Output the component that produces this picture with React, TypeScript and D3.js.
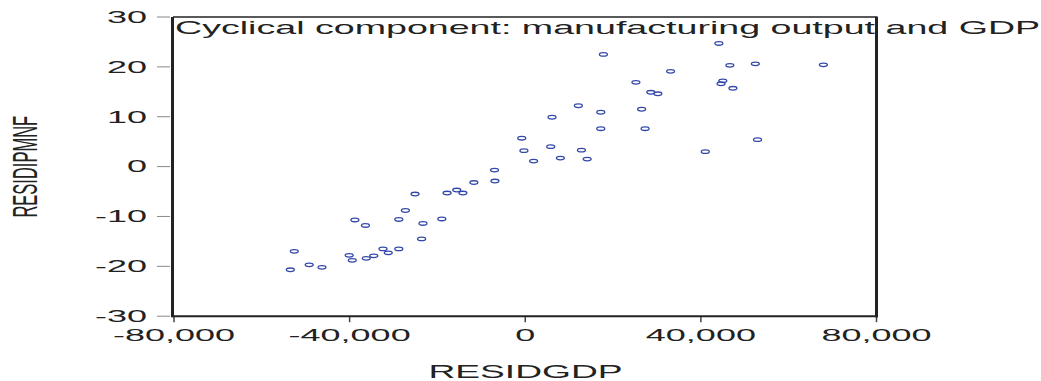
import React from 'react';
import * as d3 from 'd3';

// Data (RESIDGDP, RESIDIPMNF)
const residGDP = [
  -53500, -52600, -49200, -46300, -40100, -39400, -38800, -36400, -36200, -34500,
  -32400, -31200, -28800, -28800, -27300, -25100, -23600, -23300, -19000, -17800,
  -15600, -14200, -11700, -7000, -6900, -800, -300, 1900, 5800, 6100,
  8000, 12100, 12800, 14100, 17200, 17200, 17800, 25200, 26500, 27300,
  28600, 30200, 33100, 41000, 44100, 44600, 45000, 46600, 47300, 52400,
  52900, 67900,
];
const residIPMNF = [
  -20.7, -17.0, -19.7, -20.2, -17.8, -18.8, -10.7, -11.8, -18.4, -17.9,
  -16.5, -17.3, -16.5, -10.6, -8.8, -5.5, -14.5, -11.4, -10.5, -5.3,
  -4.7, -5.3, -3.2, -0.7, -2.9, 5.7, 3.2, 1.1, 4.0, 9.9,
  1.7, 12.2, 3.3, 1.5, 10.9, 7.6, 22.5, 16.9, 11.5, 7.6,
  14.9, 14.6, 19.1, 3.0, 24.7, 16.6, 17.2, 20.3, 15.7, 20.6,
  5.4, 20.4,
];
const xTicks = [-80000, -40000, 0, 40000, 80000];
const yTicks = [30, 20, 10, 0, -10, -20, -30];
const title = 'Cyclical component: manufacturing output and GDP';
const xLabel = 'RESIDGDP';
const yLabel = 'RESIDIPMNF';

const FONT = "'Liberation Sans', Arial, Helvetica, sans-serif";
const SX = 2.25;

export default function App() {
  const x = d3.scaleLinear().domain([-80000, 80000]).range([174, 876.5]);
  const y = d3.scaleLinear().domain([-30, 30]).range([316.2, 17]);
  const fmt = (v: number) => d3.format(',')(v).replace('\u2212', '-');
  const left = x(-80000);
  const right = x(80000);
  const top = y(30);
  const bottom = y(-30);

  return (
    <svg
      width={1041}
      height={381}
      style={{ position: 'absolute', left: 0, top: 0, background: '#fff' }}
      fontFamily={FONT}
    >
      <rect width={1041} height={381} fill="#fff" />
      {/* title */}
      <text
        transform={`translate(175,33.5) scale(2.09,1)`}
        fontSize={18}
        fill="#222"
      >
        {title}
      </text>

      {/* y ticks and labels */}
      {yTicks.map((t) => (
        <g key={'y' + t}>
          <line x1={157} x2={170} y1={y(t)} y2={y(t)} stroke="#888" strokeWidth={1} />
          <text
            transform={`translate(147,${y(t) + 5.8}) scale(${SX},1)`}
            textAnchor="end"
            fontSize={16}
            fill="#222"
          >
            {fmt(t)}
          </text>
        </g>
      ))}

      {/* x ticks and labels */}
      {xTicks.map((t) => (
        <g key={'x' + t}>
          <line x1={x(t)} x2={x(t)} y1={bottom} y2={bottom + 6} stroke="#444" strokeWidth={1.5} />
          <text
            transform={`translate(${x(t)},341) scale(${SX},1)`}
            textAnchor="middle"
            fontSize={16}
            fill="#222"
          >
            {fmt(t)}
          </text>
        </g>
      ))}

      {/* axis titles */}
      <text
        transform={`translate(525.5,377.7) scale(2.01,1)`}
        textAnchor="middle"
        fontSize={18.5}
        fill="#222"
      >
        {xLabel}
      </text>
      <text
        transform={`translate(36.7,166.7) rotate(-90) scale(1,2.12)`}
        textAnchor="middle"
        fontSize={16.5}
        fill="#222"
      >
        {yLabel}
      </text>

      {/* points */}
      {residGDP.map((g, i) => (
        <ellipse
          key={'p' + i}
          cx={x(g)}
          cy={y(residIPMNF[i])}
          rx={4}
          ry={1.8}
          fill="none"
          stroke="#3347a8"
          strokeWidth={1.3}
        />
      ))}

      {/* frame */}
      <line x1={left - 1} x2={right + 1} y1={top} y2={top} stroke="#222" strokeWidth={1.5} />
      <line x1={left - 1.5} x2={right + 1.5} y1={bottom} y2={bottom} stroke="#222" strokeWidth={2} />
      <line x1={left - 1.5} x2={left - 1.5} y1={top} y2={bottom + 1} stroke="#222" strokeWidth={3} />
      <line x1={right} x2={right} y1={top} y2={bottom + 1} stroke="#222" strokeWidth={3} />
    </svg>
  );
}
